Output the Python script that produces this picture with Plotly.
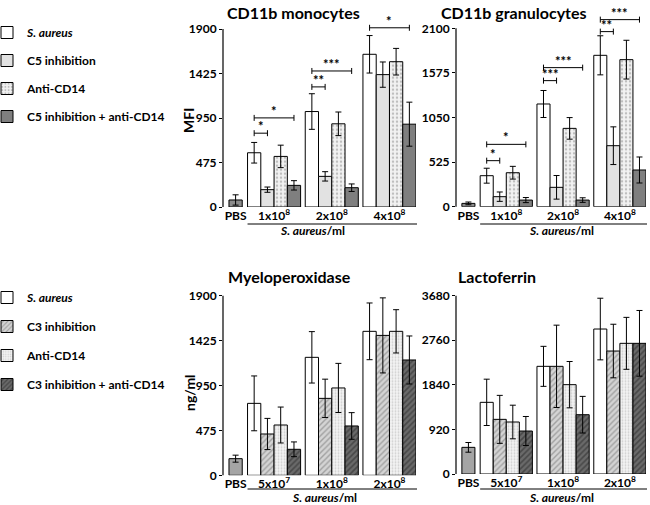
import plotly.graph_objects as go

W, H = 650, 505
FONT = "Lato"

# ---------------- data ----------------
top_conc = ["1x10<sup>8</sup>", "2x10<sup>8</sup>", "4x10<sup>8</sup>"]
bot_conc = ["5x10<sup>7</sup>", "1x10<sup>8</sup>", "2x10<sup>8</sup>"]
top_names = ["<i>S. aureus</i>", "C5 inhibition", "Anti-CD14", "C5 inhibition + anti-CD14"]
bot_names = ["<i>S. aureus</i>", "C3 inhibition", "Anti-CD14", "C3 inhibition + anti-CD14"]

# CD11b monocytes (MFI)
mono_pbs, mono_pbs_err = 75, 55
mono_saureus = [579, 1019, 1630]
mono_saureus_err = [110, 190, 200]
mono_c5 = [185, 327, 1413]
mono_c5_err = [28, 50, 135]
mono_cd14 = [540, 888, 1551]
mono_cd14_err = [120, 126, 142]
mono_combo = [231, 206, 884]
mono_combo_err = [50, 40, 235]
# (group, series from, series to, height, label)
mono_sig = [(0, 0, 1, 788, "*"), (0, 0, 3, 951, "*"), (1, 0, 1, 1282, "**"),
            (1, 0, 3, 1452, "***"), (2, 0, 3, 1913, "*")]

# CD11b granulocytes (MFI)
gran_pbs, gran_pbs_err = 39, 16
gran_saureus = [365, 1209, 1782]
gran_saureus_err = [88, 159, 230]
gran_c5 = [118, 228, 718]
gran_c5_err = [55, 139, 222]
gran_cd14 = [400, 922, 1731]
gran_cd14_err = [75, 127, 228]
gran_combo = [78, 78, 432]
gran_combo_err = [30, 27, 153]
gran_sig = [(0, 0, 1, 542, "*"), (0, 0, 3, 734, "*"), (1, 0, 1, 1484, "***"),
            (1, 0, 3, 1637, "***"), (2, 0, 1, 2061, "**"), (2, 0, 3, 2202, "***")]

# Myeloperoxidase (ng/ml)
mpo_pbs, mpo_pbs_err = 176, 37
mpo_saureus = [761, 1248, 1523]
mpo_saureus_err = [290, 272, 300]
mpo_c3 = [437, 814, 1480]
mpo_c3_err = [165, 203, 397]
mpo_cd14 = [532, 924, 1523]
mpo_cd14_err = [190, 260, 229]
mpo_combo = [275, 522, 1220]
mpo_combo_err = [78, 141, 254]

# Lactoferrin (ng/ml)
lf_pbs, lf_pbs_err = 550, 100
lf_saureus = [1479, 2222, 2992]
lf_saureus_err = [478, 413, 636]
lf_c3 = [1128, 2222, 2538]
lf_c3_err = [495, 850, 553]
lf_cd14 = [1073, 1844, 2697]
lf_cd14_err = [347, 478, 536]
lf_combo = [887, 1224, 2697]
lf_combo_err = [300, 378, 678]

# ---------------- styles ----------------
top_styles = [
    dict(color="white"),
    dict(color="#e2e2e2"),
    dict(color="#f2f2f2", pattern=dict(shape=".", fgcolor="#8a8a8a", bgcolor="#f2f2f2",
                                        size=4, solidity=0.3)),
    dict(color="#7f7f7f"),
]
top_pbs_color = "#8c8c8c"
bot_styles = [
    dict(color="white"),
    dict(color="#d4d4d4", pattern=dict(shape="/", fgcolor="#6e6e6e", bgcolor="#d4d4d4",
                                        size=4, solidity=0.35)),
    dict(color="#f4f4f4", pattern=dict(shape=".", fgcolor="#a8a8a8", bgcolor="#f4f4f4",
                                        size=3, solidity=0.3)),
    dict(color="#666666", pattern=dict(shape="/", fgcolor="#262626", bgcolor="#6a6a6a",
                                        size=4, solidity=0.4)),
]
bot_pbs_color = "#a5a5a5"

XMIN, XMAX = -3.85, 10.7
CENTERS = [0, 4.35, 8.7]
PBS_X = -2.9
SLOT = [-1.5, -0.5, 0.5, 1.5]

panels = [
    dict(title="CD11b monocytes", ytitle="MFI", left=223, right=416, zero=207, top_px=29,
         top_val=1900, rmax=2000, conc=top_conc, names=top_names, styles=top_styles,
         pbs_color=top_pbs_color, pbs=(mono_pbs, mono_pbs_err),
         series=[(mono_saureus, mono_saureus_err), (mono_c5, mono_c5_err),
                 (mono_cd14, mono_cd14_err), (mono_combo, mono_combo_err)],
         sig=mono_sig, legend="legend", title_x=225, title_y=12, ytitle_x=188, ytitle_y=121,
         line_y=224, lab_x=312, lab_y=231),
    dict(title="CD11b granulocytes", ytitle=None, left=456, right=646, zero=206.7, top_px=28.3,
         top_val=2100, rmax=2300, conc=top_conc, names=top_names, styles=top_styles,
         pbs_color=top_pbs_color, pbs=(gran_pbs, gran_pbs_err),
         series=[(gran_saureus, gran_saureus_err), (gran_c5, gran_c5_err),
                 (gran_cd14, gran_cd14_err), (gran_combo, gran_combo_err)],
         sig=gran_sig, legend=None, title_x=439, title_y=12, line_y=224, lab_x=561, lab_y=231),
    dict(title="Myeloperoxidase", ytitle="ng/ml", left=223, right=416, zero=475.3, top_px=295.7,
         top_val=1900, rmax=1900, conc=bot_conc, names=bot_names, styles=bot_styles,
         pbs_color=bot_pbs_color, pbs=(mpo_pbs, mpo_pbs_err),
         series=[(mpo_saureus, mpo_saureus_err), (mpo_c3, mpo_c3_err),
                 (mpo_cd14, mpo_cd14_err), (mpo_combo, mpo_combo_err)],
         sig=[], legend="legend2", title_x=226, title_y=276, ytitle_x=189, ytitle_y=393,
         line_y=489, lab_x=324, lab_y=497.5),
    dict(title="Lactoferrin", ytitle=None, left=456, right=646, zero=474, top_px=295.7,
         top_val=3680, rmax=3680, conc=bot_conc, names=bot_names, styles=bot_styles,
         pbs_color=bot_pbs_color, pbs=(lf_pbs, lf_pbs_err),
         series=[(lf_saureus, lf_saureus_err), (lf_c3, lf_c3_err),
                 (lf_cd14, lf_cd14_err), (lf_combo, lf_combo_err)],
         sig=[], legend=None, title_x=456, title_y=276, line_y=489, lab_x=561, lab_y=497.5),
]

fig = go.Figure()
shapes, annotations = [], []
tickfont = dict(family=FONT, size=12, color="black", weight="bold")
layout = {}


def err(arr):
    return dict(type="data", array=arr, visible=True, color="black", thickness=1, width=3)


for i, p in enumerate(panels):
    k = "" if i == 0 else str(i + 1)
    xa, ya = "x" + k, "y" + k
    scale = (p["zero"] - p["top_px"]) / p["top_val"]
    dom_top = p["zero"] - p["rmax"] * scale

    # PBS bar
    fig.add_trace(go.Bar(x=[PBS_X], y=[p["pbs"][0]], width=1, xaxis=xa, yaxis=ya,
                         marker=dict(color=p["pbs_color"], line=dict(color="black", width=1)),
                         error_y=err([p["pbs"][1]]), showlegend=False))
    for s, (vals, errs) in enumerate(p["series"]):
        st = p["styles"][s]
        marker = dict(color=st["color"], line=dict(color="black", width=1))
        if "pattern" in st:
            marker["pattern"] = st["pattern"]
        if p["legend"]:
            kw = dict(showlegend=True, legend=p["legend"], legendgroup=p["legend"] + str(s))
        else:
            kw = dict(showlegend=False)
        fig.add_trace(go.Bar(x=[c + SLOT[s] for c in CENTERS], y=vals, width=1,
                             name=p["names"][s], xaxis=xa, yaxis=ya, marker=marker,
                             error_y=err(errs), **kw))

    step = p["top_val"] / 4
    layout["xaxis" + k] = dict(domain=[p["left"] / W, p["right"] / W], range=[XMIN, XMAX],
                               anchor=ya, showline=False, showgrid=False, zeroline=False,
                               ticks="", tickvals=[PBS_X] + CENTERS,
                               ticktext=["PBS"] + p["conc"], tickfont=tickfont, fixedrange=True)
    layout["yaxis" + k] = dict(domain=[1 - p["zero"] / H, 1 - dom_top / H], range=[0, p["rmax"]],
                               anchor=xa, showline=False, showgrid=False, zeroline=False,
                               tickvals=[step * j for j in range(5)], ticks="outside", ticklen=3,
                               tickwidth=1, tickcolor="black", tickfont=tickfont, fixedrange=True)
    # y axis line
    shapes.append(dict(type="line", xref="paper", yref="paper", x0=p["left"] / W, x1=p["left"] / W,
                       y0=1 - p["zero"] / H, y1=1 - p["top_px"] / H,
                       line=dict(color="black", width=1.2)))
    # group underline
    x_start = p["left"] + (CENTERS[0] - 2 - XMIN) / (XMAX - XMIN) * (p["right"] - p["left"])
    shapes.append(dict(type="line", xref="paper", yref="paper", x0=x_start / W, x1=(p["right"] + 1) / W,
                       y0=1 - p["line_y"] / H, y1=1 - p["line_y"] / H,
                       line=dict(color="black", width=1)))
    annotations.append(dict(text="<i>S. aureus</i>/ml", xref="paper", yref="paper",
                            x=p["lab_x"] / W, y=1 - p["lab_y"] / H, xanchor="center", yanchor="middle",
                            showarrow=False, font=dict(family=FONT, size=12, color="black", weight="bold")))
    annotations.append(dict(text=p["title"], xref="paper", yref="paper", x=p["title_x"] / W,
                            y=1 - p["title_y"] / H, xanchor="left", yanchor="middle", showarrow=False,
                            font=dict(family=FONT, size=16, color="black", weight="bold")))
    if p["ytitle"]:
        annotations.append(dict(text=p["ytitle"], xref="paper", yref="paper", x=p["ytitle_x"] / W,
                                y=1 - p["ytitle_y"] / H, xanchor="center", yanchor="middle",
                                textangle=-90, showarrow=False,
                                font=dict(family=FONT, size=14, color="black", weight="bold")))
    # significance brackets
    d = 3 / scale
    for g, a, b, y, lab in p["sig"]:
        x1 = CENTERS[g] + SLOT[a]
        x2 = CENTERS[g] + SLOT[b]
        shapes.append(dict(type="path", xref=xa, yref=ya,
                           path=f"M{x1},{y-d} L{x1},{y+d} M{x1},{y} L{x2},{y} M{x2},{y-d} L{x2},{y+d}",
                           line=dict(color="black", width=1)))
        annotations.append(dict(text=lab, xref=xa, yref=ya, x=(x1 + x2) / 2, y=y, yanchor="bottom",
                                yshift=-3, showarrow=False,
                                font=dict(family=FONT, size=13, color="black", weight="bold")))

legend_font = dict(family=FONT, size=12, color="black", weight="bold")
fig.update_layout(
    **layout,
    barmode="overlay",
    width=W, height=H,
    margin=dict(l=0, r=0, t=0, b=0, autoexpand=False),
    paper_bgcolor="white", plot_bgcolor="white",
    font=dict(family=FONT, color="black"),
    shapes=shapes, annotations=annotations,
    legend=dict(x=-0.02, y=1 - 18 / H, xanchor="left", yanchor="top", tracegroupgap=9,
                font=legend_font, bgcolor="rgba(0,0,0,0)", itemclick=False),
    legend2=dict(x=-0.02, y=1 - 283 / H, xanchor="left", yanchor="top", tracegroupgap=10,
                 font=legend_font, bgcolor="rgba(0,0,0,0)", itemclick=False),
)

fig.write_html("out.html", config={"displayModeBar": False},
               post_script="document.body.style.margin='0';")
